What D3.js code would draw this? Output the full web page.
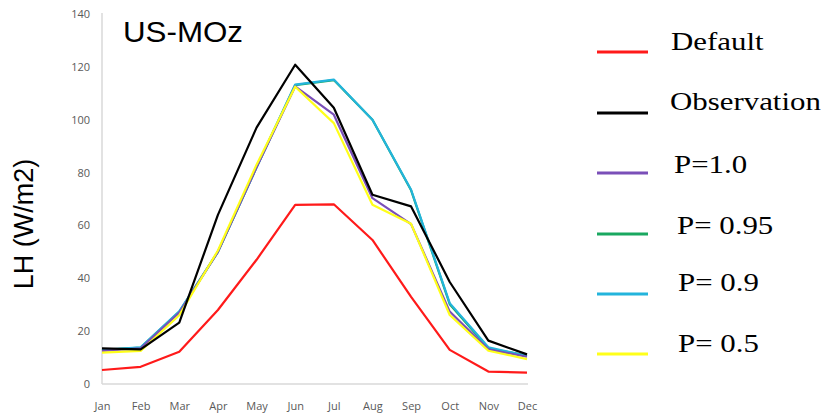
<!DOCTYPE html>
<html>
<head>
<meta charset="utf-8">
<script src="https://cdn.jsdelivr.net/npm/d3@7"></script>
<style>
  html, body { margin: 0; padding: 0; background: #fff; }
  svg { display: block; }
</style>
</head>
<body>
<svg id="chart" width="829" height="418"></svg>
<script>
// Monthly latent heat flux at US-MOz
const months = ["Jan","Feb","Mar","Apr","May","Jun","Jul","Aug","Sep","Oct","Nov","Dec"];
const yTicks = [0, 20, 40, 60, 80, 100, 120, 140];

const defaultLH     = [5.3, 6.5, 12.2, 28, 47, 67.8, 68, 54.5, 33, 12.9, 4.7, 4.3];
const observationLH = [13.5, 13.1, 23.2, 64, 97, 120.8, 104.5, 71.6, 67.2, 38.6, 16.4, 11.2];
const p100LH        = [12.5, 13.5, 27, 50, 82, 112.6, 101.9, 70.3, 60.5, 27.4, 13.1, 10.3];
const p095LH        = [12.8, 13.8, 27.3, 50, 82, 113.1, 115, 100, 73.3, 30.2, 13.5, 10.8];
const p090LH        = [12.9, 13.9, 27.5, 50, 82, 113.3, 115.2, 100, 73.5, 30.6, 13.9, 10.6];
const p050LH        = [11.9, 12.5, 26, 50.5, 83, 112.5, 98.7, 67.8, 60.6, 26.1, 12.6, 9.4];

const legendNames = ["Default", "Observation", "P=1.0", "P= 0.95", "P= 0.9", "P= 0.5"];
const colors = ["#ff1a1a", "#000000", "#7a4fb8", "#1aa860", "#23b4dc", "#ffff1a"];
const seriesValues = [defaultLH, observationLH, p100LH, p095LH, p090LH, p050LH];

const svg = d3.select("#chart");

const x = d3.scalePoint().domain(months).range([102, 527]);
const y = d3.scaleLinear().domain([0, 140]).range([384, 14]);

// axes: light rules with grey labels, no tick marks
const xAxis = svg.append("g")
  .attr("transform", "translate(0,384)")
  .call(d3.axisBottom(x).tickSize(0).tickPadding(18));
xAxis.select(".domain").attr("stroke", "#d9d9d9").attr("stroke-width", 1.5)
  .attr("d", "M102,0H528");
xAxis.selectAll("text").attr("fill", "#595959")
  .style("font-family", "'Open Sans', 'Liberation Sans', sans-serif").style("font-size", "11px");

const yAxis = svg.append("g")
  .attr("transform", "translate(102,0)")
  .call(d3.axisLeft(y).tickValues(yTicks).tickSize(0).tickPadding(12));
yAxis.select(".domain").attr("stroke", "#d9d9d9").attr("stroke-width", 1.5)
  .attr("d", "M0,384V13");
yAxis.selectAll("text").attr("fill", "#595959")
  .style("font-family", "'Open Sans', 'Liberation Sans', sans-serif").style("font-size", "11px");

// series lines
const line = d3.line()
  .x((d, i) => x(months[i]))
  .y(d => y(d));

const drawOrder = [0, 3, 4, 2, 5, 1];
svg.append("g").selectAll("path")
  .data(drawOrder)
  .join("path")
  .attr("d", k => line(seriesValues[k]))
  .attr("fill", "none")
  .attr("stroke", k => colors[k])
  .attr("stroke-width", 2.2)
  .attr("stroke-linejoin", "round");

// site title
svg.append("text")
  .attr("x", 123).attr("y", 42)
  .style("font-family", "'Liberation Sans', Arial, sans-serif")
  .style("font-size", "30px")
  .attr("textLength", 120)
  .attr("lengthAdjust", "spacingAndGlyphs")
  .attr("fill", "#000")
  .text("US-MOz");

// y-axis title
svg.append("text")
  .attr("transform", "translate(33,224) rotate(-90)")
  .attr("text-anchor", "middle")
  .style("font-family", "'Liberation Sans', Arial, sans-serif")
  .style("font-size", "27px")
  .attr("fill", "#000")
  .text("LH (W/m2)");

// legend (labels are set wide, stretched horizontally)
const legendLineY = [52, 113, 173, 234, 294, 354];
const legendTextX = [671, 670, 674, 677, 678, 678];
const legendTextY = [50, 110, 173, 234, 291, 352];

const legend = svg.append("g");
legend.selectAll("line")
  .data(legendNames)
  .join("line")
  .attr("x1", 597).attr("x2", 648)
  .attr("y1", (d, i) => legendLineY[i]).attr("y2", (d, i) => legendLineY[i])
  .attr("stroke", (d, i) => colors[i])
  .attr("stroke-width", 3);
legend.selectAll("text")
  .data(legendNames)
  .join("text")
  .attr("transform", (d, i) => `translate(${legendTextX[i]},${legendTextY[i]}) scale(1.26,1)`)
  .style("font-family", "'Liberation Serif', 'Times New Roman', serif")
  .style("font-size", "24.5px")
  .attr("fill", "#000")
  .text(d => d);
</script>
</body>
</html>
